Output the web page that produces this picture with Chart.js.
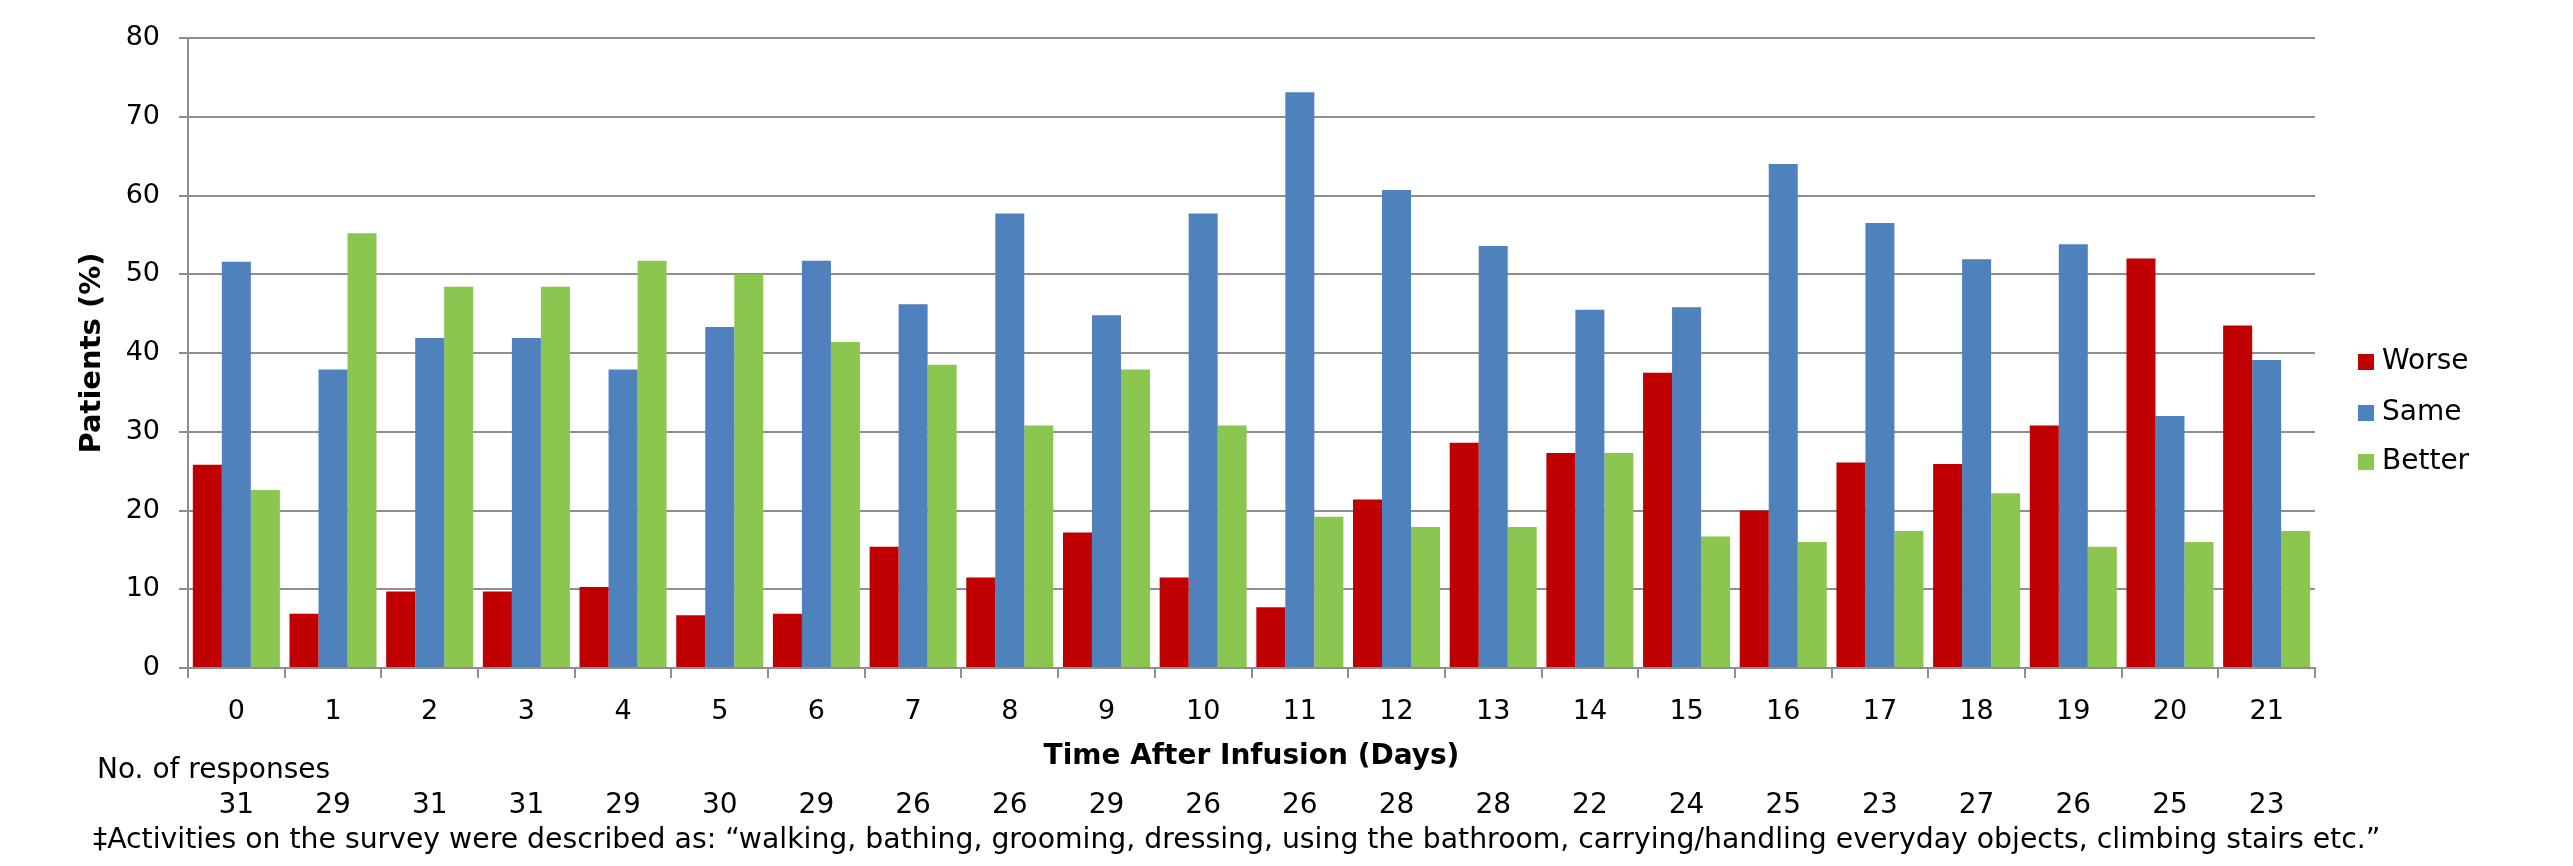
<!DOCTYPE html>
<html>
<head>
<meta charset="utf-8">
<script src="https://cdn.jsdelivr.net/npm/chart.js@4/dist/chart.umd.min.js"></script>
<style>
  html, body { margin: 0; padding: 0; background: #fff; }
  #wrap { width: 2573px; height: 866px; }
</style>
</head>
<body>
<div id="wrap"><canvas id="chart" width="2573" height="866"></canvas></div>
<script>
// days after infusion
const days = ["0","1","2","3","4","5","6","7","8","9","10","11","12","13","14","15","16","17","18","19","20","21"];
// % of patients per answer
const worse  = [25.8, 6.9, 9.7, 9.7, 10.3, 6.7, 6.9, 15.4, 11.5, 17.2, 11.5, 7.7, 21.4, 28.6, 27.3, 37.5, 20.0, 26.1, 25.9, 30.8, 52.0, 43.5];
const same   = [51.6, 37.9, 41.9, 41.9, 37.9, 43.3, 51.7, 46.2, 57.7, 44.8, 57.7, 73.1, 60.7, 53.6, 45.5, 45.8, 64.0, 56.5, 51.9, 53.8, 32.0, 39.1];
const better = [22.6, 55.2, 48.4, 48.4, 51.7, 50.0, 41.4, 38.5, 30.8, 37.9, 30.8, 19.2, 17.9, 17.9, 27.3, 16.7, 16.0, 17.4, 22.2, 15.4, 16.0, 17.4];
// number of responses per day
const responses = [31, 29, 31, 31, 29, 30, 29, 26, 26, 29, 26, 26, 28, 28, 22, 24, 25, 23, 27, 26, 25, 23];
const yTicks = [0, 10, 20, 30, 40, 50, 60, 70, 80];

const FONT = "'DejaVu Sans', Verdana, sans-serif";
const GRID = "#8e8e8e";

// response counts, footnote and legend drawn under / beside the plot
const extras = {
  id: "extras",
  afterDraw(chart) {
    const ctx = chart.ctx;
    const x = chart.scales.x;
    ctx.save();
    ctx.fillStyle = "#000";
    ctx.font = "28px " + FONT;
    ctx.textBaseline = "middle";
    ctx.textAlign = "left";
    ctx.fillText("No. of responses", 97, 771);
    ctx.textAlign = "center";
    responses.forEach((n, i) => {
      ctx.fillText(String(n), x.getPixelForValue(i), 806);
    });
    ctx.textAlign = "left";
    ctx.font = "28.3px " + FONT;
    ctx.fillText("\u2021Activities on the survey were described as: \u201cwalking, bathing, grooming, dressing, using the bathroom, carrying/handling everyday objects, climbing stairs etc.\u201d", 93, 841);

    // legend
    ctx.font = "28px " + FONT;
    const ly = [362, 413, 462];
    chart.data.datasets.forEach((ds, i) => {
      ctx.fillStyle = ds.backgroundColor;
      ctx.fillRect(2358, ly[i] - 8, 16, 16);
      ctx.fillStyle = "#000";
      ctx.fillText(ds.label, 2382, ly[i]);
    });
    ctx.restore();
  }
};

new Chart(document.getElementById("chart"), {
  type: "bar",
  data: {
    labels: days,
    datasets: [
      { label: "Worse",  data: worse,  backgroundColor: "#C00000" },
      { label: "Same",   data: same,   backgroundColor: "#4F81BD" },
      { label: "Better", data: better, backgroundColor: "#8BC650" }
    ]
  },
  options: {
    responsive: false,
    animation: false,
    devicePixelRatio: 1,
    layout: { padding: { left: 0, right: 258, top: 38, bottom: 0 } },
    datasets: { bar: { categoryPercentage: 0.9, barPercentage: 1.0 } },
    plugins: {
      legend: { display: false },
      tooltip: { enabled: false }
    },
    scales: {
      x: {
        grid: { offset: true, drawOnChartArea: false, color: GRID, lineWidth: 2, tickLength: 10 },
        border: { color: GRID, width: 2 },
        ticks: { color: "#000", font: { family: FONT, size: 27 }, padding: 18, maxRotation: 0, autoSkip: false },
        title: {
          display: true,
          text: "Time After Infusion (Days)",
          color: "#000",
          font: { family: FONT, size: 28, weight: "bold" },
          padding: { top: 0, bottom: 92 }
        },
        afterFit(scale) { scale.height = 198; }
      },
      y: {
        min: 0,
        max: 80,
        afterBuildTicks(scale) { scale.ticks = yTicks.map(v => ({ value: v })); },
        grid: { color: GRID, lineWidth: 2, tickLength: 9 },
        border: { color: GRID, width: 2 },
        ticks: { color: "#000", font: { family: FONT, size: 27 }, padding: 19 },
        title: {
          display: true,
          text: "Patients (%)",
          color: "#000",
          font: { family: FONT, size: 29, weight: "bold" },
          padding: { top: 75, bottom: 0 }
        },
        afterFit(scale) { scale.width = 188; }
      }
    }
  },
  plugins: [extras]
});
</script>
</body>
</html>
